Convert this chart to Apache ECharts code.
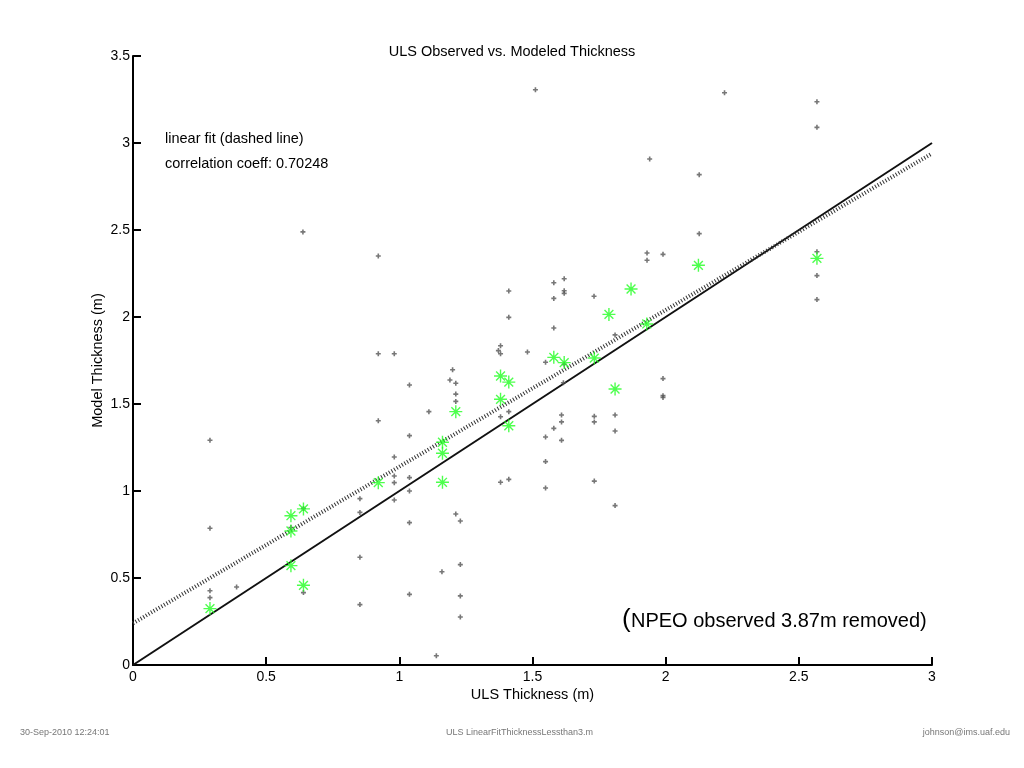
<!DOCTYPE html>
<html>
<head>
<meta charset="utf-8">
<script src="https://cdn.jsdelivr.net/npm/echarts@6/dist/echarts.min.js"></script>
<style>
  html, body { margin: 0; padding: 0; background: #fff; }
  #chart { width: 1024px; height: 768px; }
</style>
</head>
<body>
<div id="chart"></div>
<script>
// individual observations (gray +)
const grayX = [0.289, 0.289, 0.289, 0.289, 0.389, 0.593, 0.640, 0.640, 0.638,
  0.852, 0.852, 0.852, 0.852, 0.921, 0.921, 0.921,
  0.981, 0.981, 0.981, 0.981, 0.981,
  1.038, 1.038, 1.038, 1.038, 1.038, 1.038, 1.111, 1.139, 1.160,
  1.190, 1.200, 1.212, 1.212, 1.212, 1.212, 1.229, 1.229, 1.229, 1.229,
  1.372, 1.380, 1.380, 1.380, 1.380, 1.411, 1.411, 1.411, 1.411, 1.481, 1.511,
  1.549, 1.549, 1.549, 1.549, 1.580, 1.580, 1.580, 1.580,
  1.609, 1.609, 1.609, 1.616, 1.619, 1.619, 1.619, 1.619,
  1.731, 1.732, 1.732, 1.732, 1.810, 1.810, 1.810, 1.810,
  1.930, 1.930, 1.940, 1.990, 1.990, 1.990, 1.990,
  2.126, 2.126, 2.221, 2.568, 2.568, 2.568, 2.568, 2.568];
const grayY = [1.292, 0.786, 0.427, 0.387, 0.448, 0.790, 0.900, 0.416, 2.489,
  0.956, 0.877, 0.619, 0.347, 2.351, 1.789, 1.404,
  1.789, 1.195, 1.086, 1.048, 0.948,
  1.609, 1.318, 1.077, 1.000, 0.818, 0.406, 1.456, 0.053, 0.536,
  1.638, 1.697, 1.619, 1.557, 1.515, 0.868, 0.828, 0.577, 0.397, 0.276,
  1.807, 1.835, 1.789, 1.427, 1.050, 2.149, 1.998, 1.456, 1.067, 1.799, 3.306,
  1.740, 1.310, 1.169, 1.017, 2.197, 2.107, 1.937, 1.360,
  1.437, 1.397, 1.291, 1.622, 1.728, 2.220, 2.151, 2.136,
  2.119, 1.429, 1.397, 1.057, 1.897, 1.437, 1.345, 0.916,
  2.368, 2.326, 2.908, 2.360, 1.646, 1.548, 1.538,
  2.818, 2.479, 3.289, 3.237, 3.090, 2.375, 2.238, 2.100];

// mean values (green *)
const greenX = [0.289, 0.593, 0.593, 0.593, 0.640, 0.640, 0.921, 1.162, 1.162, 1.162,
  1.212, 1.380, 1.411, 1.380, 1.411, 1.580, 1.619, 1.732, 1.810, 1.787,
  1.870, 1.929, 2.123, 2.568];
const greenY = [0.324, 0.858, 0.770, 0.571, 0.897, 0.458, 1.048, 1.280, 1.217, 1.050,
  1.456, 1.661, 1.626, 1.527, 1.375, 1.768, 1.738, 1.764, 1.586, 2.015,
  2.161, 1.960, 2.297, 2.337];

const xRange = [0, 3];
const fitIntercept = 0.24;
const fitSlope = 0.9;
const corrCoeff = '0.70248';

const xTicks = [0, 0.5, 1, 1.5, 2, 2.5, 3];
const yTicks = [0, 0.5, 1, 1.5, 2, 2.5, 3, 3.5];

const font = '"Liberation Sans", Arial, sans-serif';
const plusPath = 'path://M1.7,0H3.3V1.7H5V3.3H3.3V5H1.7V3.3H0V1.7H1.7Z';
const starPath = 'path://M0,5L10,5M5,0L5,10M1.6,1.6L8.4,8.4M1.6,8.4L8.4,1.6';

const grayData = grayX.map((x, i) => [x, grayY[i]]);
const greenData = greenX.map((x, i) => [x, greenY[i]]);
const oneToOne = xRange.map(x => [x, x]);
const fitLine = xRange.map(x => [x, fitIntercept + fitSlope * x]);

const chart = echarts.init(document.getElementById('chart'));
chart.setOption({
  animation: false,
  backgroundColor: '#ffffff',
  title: {
    text: 'ULS Observed vs. Modeled Thickness',
    left: 'center',
    top: 39,
    textStyle: { fontFamily: font, fontSize: 14.5, fontWeight: 'normal', color: '#000' }
  },
  grid: { left: 133, right: 92, top: 56, bottom: 103 },
  xAxis: {
    type: 'value',
    min: xTicks[0],
    max: xTicks[xTicks.length - 1],
    interval: 0.5,
    name: 'ULS Thickness (m)',
    nameLocation: 'middle',
    nameGap: 22,
    nameMoveOverlap: false,
    nameTextStyle: { fontFamily: font, fontSize: 14.5, color: '#000' },
    axisLine: { onZero: false, lineStyle: { color: '#000', width: 2 } },
    axisTick: { inside: true, length: 8, lineStyle: { color: '#000', width: 2 } },
    axisLabel: { fontFamily: font, fontSize: 14, color: '#000', margin: 5 },
    splitLine: { show: false }
  },
  yAxis: {
    type: 'value',
    min: yTicks[0],
    max: yTicks[yTicks.length - 1],
    interval: 0.5,
    name: 'Model Thickness (m)',
    nameLocation: 'middle',
    nameGap: 28,
    nameMoveOverlap: false,
    nameTextStyle: { fontFamily: font, fontSize: 14.5, color: '#000' },
    axisLine: { onZero: false, lineStyle: { color: '#000', width: 2 } },
    axisTick: { inside: true, length: 8, lineStyle: { color: '#000', width: 2 } },
    axisLabel: { fontFamily: font, fontSize: 14, color: '#000', margin: 3 },
    splitLine: { show: false }
  },
  series: [
    {
      type: 'line',
      data: oneToOne,
      symbol: 'none',
      lineStyle: { color: '#111', width: 2 },
      z: 3
    },
    {
      type: 'line',
      data: fitLine,
      symbol: 'none',
      lineStyle: { color: '#333', width: 4, type: [1, 2] },
      z: 3
    },
    {
      type: 'scatter',
      data: grayData,
      symbol: plusPath,
      symbolSize: 5,
      itemStyle: { color: '#555' },
      z: 4
    },
    {
      type: 'scatter',
      data: greenData,
      symbol: starPath,
      symbolSize: 13,
      itemStyle: { color: 'none', borderColor: '#22ff22', borderWidth: 1.4 },
      z: 5
    }
  ],
  graphic: [
    { type: 'text', left: 165, top: 131,
      style: { text: 'linear fit (dashed line)', font: '14.5px ' + font, fill: '#000' } },
    { type: 'text', left: 165, top: 156,
      style: { text: 'correlation coeff: ' + corrCoeff, font: '14.5px ' + font, fill: '#000' } },
    { type: 'text', left: 622, top: 607,
      style: { text: '(', font: '26px ' + font, fill: '#000' } },
    { type: 'text', left: 631, top: 611,
      style: { text: 'NPEO observed 3.87m removed)', font: '20px ' + font, fill: '#000' } },
    { type: 'text', left: 20, top: 728,
      style: { text: '30-Sep-2010 12:24:01', font: '9px ' + font, fill: '#777' } },
    { type: 'text', left: 446, top: 728,
      style: { text: 'ULS LinearFitThicknessLessthan3.m', font: '9px ' + font, fill: '#777' } },
    { type: 'text', right: 14, top: 728,
      style: { text: 'johnson@ims.uaf.edu', font: '9px ' + font, fill: '#777' } }
  ]
});
</script>
</body>
</html>
